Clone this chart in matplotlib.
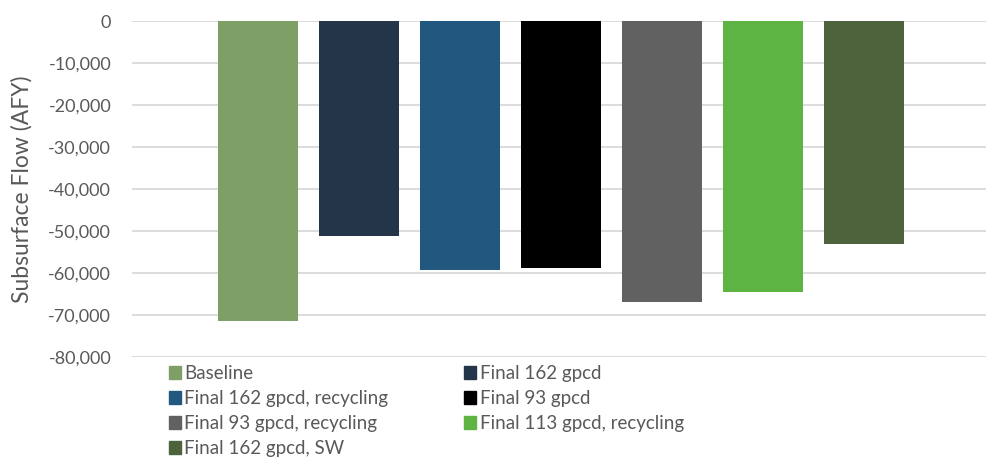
import numpy as np
import matplotlib
matplotlib.use("Agg")
import matplotlib.pyplot as plt
from matplotlib.patches import Patch
from matplotlib.ticker import FuncFormatter, MultipleLocator

plt.rcParams['font.family'] = ['Lato', 'DejaVu Sans']

scenarios = ["Baseline", "Final 162 gpcd", "Final 162 gpcd, recycling", "Final 93 gpcd",
             "Final 93 gpcd, recycling", "Final 113 gpcd, recycling", "Final 162 gpcd, SW"]
flow = [-71400, -51200, -59300, -58700, -66900, -64500, -53100]
colors = ["#7ea066", "#253549", "#22577f", "#000000", "#616161", "#5db443", "#4c633b"]

txt = "#595959"
fig = plt.figure(figsize=(9.86, 4.62), dpi=100)
ax = fig.add_axes([0.1339, 0.2273, 0.8661, 0.7272])

x = np.arange(len(flow))
ax.bar(x, flow, width=0.79, color=colors, zorder=3)

ax.set_xlim(-1.247, 7.21)
ax.set_ylim(-80000, 0)
ax.yaxis.set_major_locator(MultipleLocator(10000))
ax.yaxis.set_major_formatter(FuncFormatter(lambda v, p: f"{v:,.0f}"))
ax.set_xticks([])
ax.grid(axis='y', color="#d9d9d9", lw=1.3, zorder=0)
for s in ax.spines.values():
    s.set_visible(False)
ax.tick_params(axis='y', length=0, pad=15, labelsize=13, labelcolor=txt)
ax.set_ylabel("Subsurface Flow (AFY)", fontsize=16.5, color=txt)
ax.yaxis.set_label_coords(-0.116, 0.5)

# legend: fill row by row like the original, matplotlib fills columns first
order = [0, 2, 4, 6, 1, 3, 5]
handles = [Patch(color=colors[i], label=scenarios[i]) for i in order]
fig.legend(handles=handles, ncols=2, loc='upper left', bbox_to_anchor=(0.171, 0.21),
           frameon=False, fontsize=13.5, labelcolor=txt, handlelength=0.64, handleheight=0.64,
           handletextpad=0.2, columnspacing=4.05, labelspacing=0.43, borderaxespad=0, borderpad=0)

fig.savefig("out.png", dpi=100)
